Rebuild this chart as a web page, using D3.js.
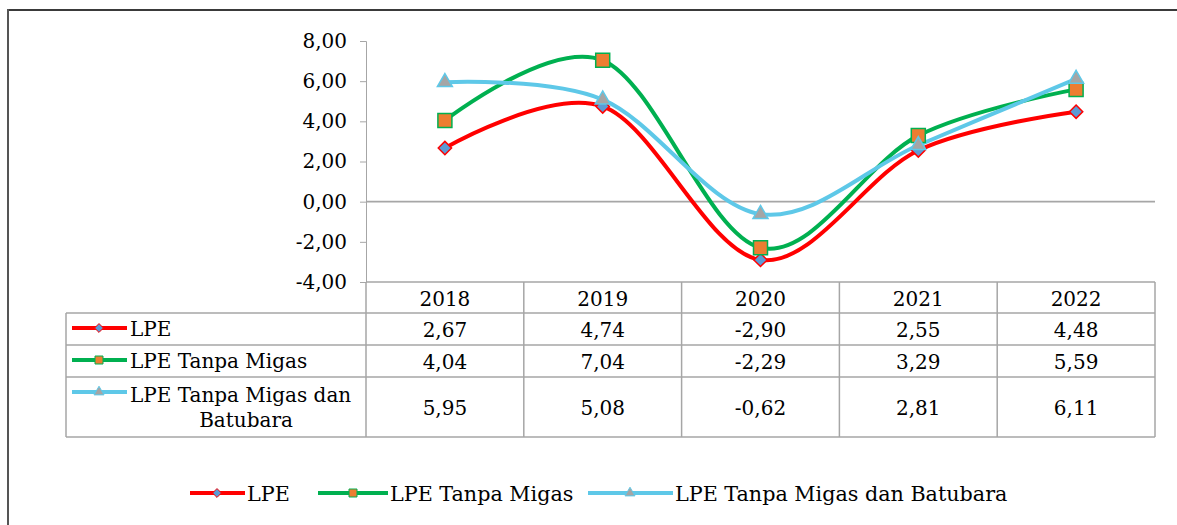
<!DOCTYPE html>
<html lang="id">
<head>
<meta charset="UTF-8">
<title>LPE</title>
<script src="https://d3js.org/d3.v7.min.js"></script>
<style>
  body { margin: 0; background: #fff; }
  text { font-family: "DejaVu Serif", serif; fill: #000; }
</style>
</head>
<body>
<svg id="chart" width="1177" height="525"></svg>
<script>
var years = ["2018", "2019", "2020", "2021", "2022"];
var seriesNames = ["LPE", "LPE Tanpa Migas", "LPE Tanpa Migas dan Batubara"];
var lpe = [2.67, 4.74, -2.90, 2.55, 4.48];
var lpeTanpaMigas = [4.04, 7.04, -2.29, 3.29, 5.59];
var lpeTanpaMigasBatubara = [5.95, 5.08, -0.62, 2.81, 6.11];
var yTicks = [-4, -2, 0, 2, 4, 6, 8];

var series = [
  { name: seriesNames[0], values: lpe, line: "#ff0000", fill: "#5b9bd5", shape: "diamond" },
  { name: seriesNames[1], values: lpeTanpaMigas, line: "#00b050", fill: "#ed7d31", shape: "square" },
  { name: seriesNames[2], values: lpeTanpaMigasBatubara, line: "#5ec8e8", fill: "#a5a5a5", shape: "triangle" }
];

var svg = d3.select("#chart");
// comma decimals, plain hyphen for negatives
var fmt = function(v) { return d3.format(".2f")(v).replace(".", ",").replace("\u2212", "-"); };

// outer frame (only top and left visible)
svg.append("line").attr("x1", 8).attr("x2", 1177).attr("y1", 10).attr("y2", 10)
  .attr("stroke", "#3a3a3a").attr("stroke-width", 2);
svg.append("line").attr("x1", 8).attr("x2", 8).attr("y1", 9).attr("y2", 525)
  .attr("stroke", "#555").attr("stroke-width", 2);

var x = d3.scaleBand().domain(years).range([366, 1155]);
var y = d3.scaleLinear().domain([-4, 8]).range([282, 41]);
var grey = "#a6a6a6";
var fs = 20;

// y axis
var yAxis = svg.append("g").attr("transform", "translate(366,0)")
  .call(d3.axisLeft(y).tickValues(yTicks).tickFormat(fmt).tickSize(6).tickPadding(13));
yAxis.select(".domain").attr("stroke", grey);
yAxis.selectAll(".tick line").attr("stroke", grey);
yAxis.selectAll("text").attr("font-size", fs).attr("font-family", null).attr("fill", "#000");

// zero line
svg.append("line").attr("x1", 366).attr("x2", 1155).attr("y1", y(0)).attr("y2", y(0))
  .attr("stroke", grey).attr("stroke-width", 1.8);

// data table
var tLeft = 66, tRight = 1155;
var rowTops = [282, 313, 345, 377, 437];
var tbl = svg.append("g").attr("stroke", grey).attr("stroke-width", 1.5);
tbl.append("line").attr("x1", 366).attr("x2", tRight).attr("y1", rowTops[0]).attr("y2", rowTops[0]);
rowTops.slice(1).forEach(function(r) {
  tbl.append("line").attr("x1", tLeft).attr("x2", tRight).attr("y1", r).attr("y2", r);
});
tbl.append("line").attr("x1", tLeft).attr("x2", tLeft).attr("y1", rowTops[1]).attr("y2", rowTops[4]);
years.forEach(function(yr) {
  var xe = x(yr) + x.bandwidth();
  tbl.append("line").attr("x1", xe).attr("x2", xe).attr("y1", rowTops[0]).attr("y2", rowTops[4]);
});
tbl.append("line").attr("x1", 366).attr("x2", 366).attr("y1", rowTops[0]).attr("y2", rowTops[4]);

svg.append("g").selectAll("text").data(years).join("text")
  .attr("x", function(d) { return x(d) + x.bandwidth() / 2; })
  .attr("y", (rowTops[0] + rowTops[1]) / 2 + 8)
  .attr("text-anchor", "middle").attr("font-size", fs)
  .text(function(d) { return d; });

// marker shapes, w = rough width in px
function markerPath(shape, w) {
  if (shape === "diamond") return d3.symbol(d3.symbolDiamond2, (w / 1.414) * (w / 1.414))();
  if (shape === "square") return d3.symbol(d3.symbolSquare, w * w)();
  return d3.symbol(d3.symbolTriangle, Math.sqrt(3) / 4 * w * w)();
}

series.forEach(function(s, i) {
  var top = rowTops[i + 1], bot = rowTops[i + 2], mid = (top + bot) / 2;
  var g = svg.append("g");
  // legend key
  g.append("line").attr("x1", 72).attr("x2", 127).attr("y1", top + 15).attr("y2", top + 15)
    .attr("stroke", s.line).attr("stroke-width", 4);
  g.append("path").attr("d", markerPath(s.shape, s.shape === "square" ? 8 : 10))
    .attr("transform", "translate(99," + (top + 15) + ")")
    .attr("fill", s.fill).attr("stroke", s.line).attr("stroke-width", 1);
  if (i < 2) {
    g.append("text").attr("x", 130).attr("y", top + 23).attr("font-size", fs).text(s.name);
  } else {
    g.append("text").attr("x", 130).attr("y", top + 25).attr("font-size", fs).text("LPE Tanpa Migas dan");
    g.append("text").attr("x", 246).attr("y", top + 50).attr("text-anchor", "middle").attr("font-size", fs).text("Batubara");
  }
  g.selectAll(".val").data(s.values).join("text").attr("class", "val")
    .attr("x", function(d, j) { return x(years[j]) + x.bandwidth() / 2; })
    .attr("y", mid + 7.5)
    .attr("text-anchor", "middle").attr("font-size", fs)
    .text(fmt);
});

// lines
var line = d3.line()
  .x(function(d, j) { return x(years[j]) + x.bandwidth() / 2; })
  .y(function(d) { return y(d); })
  .curve(d3.curveCardinal.tension(0));

series.forEach(function(s) {
  svg.append("path").datum(s.values).attr("d", line)
    .attr("fill", "none").attr("stroke", s.line).attr("stroke-width", 4);
});
series.forEach(function(s) {
  svg.append("g").selectAll("path").data(s.values).join("path")
    .attr("d", markerPath(s.shape, s.shape === "square" ? 14 : 15))
    .attr("transform", function(d, j) {
      return "translate(" + (x(years[j]) + x.bandwidth() / 2) + "," + y(d) + ")";
    })
    .attr("fill", s.fill).attr("stroke", s.line).attr("stroke-width", 1.5);
});

// bottom legend
var legendX = [190, 318, 588];
var lg = svg.append("g").selectAll("g").data(series).join("g")
  .attr("transform", function(d, i) { return "translate(" + legendX[i] + ",493)"; });
lg.append("line").attr("x1", 0).attr("x2", function(d, i) { return [55, 70, 85][i]; })
  .attr("y1", 0).attr("y2", 0)
  .attr("stroke", function(d) { return d.line; }).attr("stroke-width", 4);
lg.append("path")
  .attr("d", function(d) { return markerPath(d.shape, d.shape === "square" ? 8 : 10); })
  .attr("transform", function(d, i) { return "translate(" + [27, 35, 42][i] + ",0)"; })
  .attr("fill", function(d) { return d.fill; })
  .attr("stroke", function(d) { return d.line; }).attr("stroke-width", 1);
lg.append("text")
  .attr("x", function(d, i) { return [57, 72, 87][i]; })
  .attr("y", 8)
  .attr("font-family", "Liberation Serif").attr("font-size", 20.7)
  .text(function(d) { return d.name; });
</script>
</body>
</html>
